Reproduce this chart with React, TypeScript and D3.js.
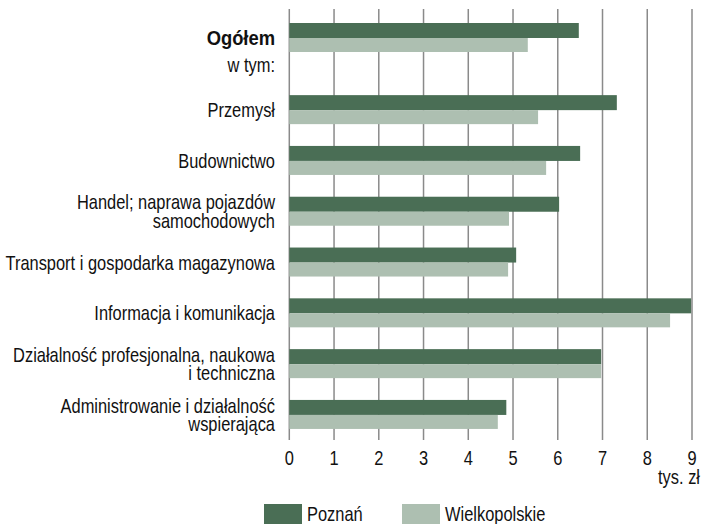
import React from "react";
import * as d3 from "d3";

const categories: string[][] = [
  ["Ogółem"],
  ["Przemysł"],
  ["Budownictwo"],
  ["Handel; naprawa pojazdów", "samochodowych"],
  ["Transport i gospodarka magazynowa"],
  ["Informacja i komunikacja"],
  ["Działalność profesjonalna, naukowa", "i techniczna"],
  ["Administrowanie i działalność", "wspierająca"],
];
const rowSlot = [0, 1.42, 2.42, 3.42, 4.42, 5.42, 6.42, 7.42];
const poznan = [6.47, 7.32, 6.5, 6.03, 5.07, 8.98, 6.97, 4.85];
const wielkopolskie = [5.33, 5.56, 5.74, 4.91, 4.89, 8.51, 6.97, 4.66];
const xTicks = [0, 1, 2, 3, 4, 5, 6, 7, 8, 9];
const seriesNames = ["Poznań", "Wielkopolskie"];
const subLabel = "w tym:";
const unitLabel = "tys. zł";

const DARK = "#4a6e55";
const LIGHT = "#adbfb1";
const GRID = "#8a8a8a";
const FONT = "'Liberation Sans', Arial, sans-serif";
const SX = 0.782;
const SX_BOLD = 0.875;

function NText(props: {
  x: number;
  y: number;
  anchor?: string;
  bold?: boolean;
  size?: number;
  children: React.ReactNode;
}) {
  const { x, y, anchor = "start", bold = false, size = 21, children } = props;
  return (
    <g transform={`translate(${x},${y}) scale(${bold ? SX_BOLD : SX},1)`}>
      <text
        x={0}
        y={0}
        textAnchor={anchor}
        fontSize={size}
        fontWeight={bold ? "bold" : "normal"}
        fill="#111"
      >
        {children}
      </text>
    </g>
  );
}

export default function App() {
  const W = 702;
  const H = 524;
  const x = d3.scaleLinear().domain([0, 9]).range([289.3, 692]);
  const y = d3.scaleLinear().domain([0, 1]).range([23, 73.8]);
  const barH1 = 15;
  const barH2 = 14;
  const gridTop = 9;
  const gridBottom = 440;
  const labelX = 275;
  const baseOff = 7.5;

  return (
    <svg
      width={W}
      height={H}
      style={{ position: "absolute", left: 0, top: 0 }}
      fontFamily={FONT}
    >
      <rect width={W} height={H} fill="#fff" />
      {xTicks.map((t) => (
        <line
          key={"g" + t}
          x1={x(t)}
          x2={x(t)}
          y1={gridTop}
          y2={gridBottom}
          stroke={GRID}
          strokeWidth={1.5}
        />
      ))}
      {categories.map((c, i) => {
        const top = y(rowSlot[i]);
        return (
          <g key={"b" + i}>
            <rect x={x(0)} y={top} width={x(poznan[i]) - x(0)} height={barH1} fill={DARK} />
            <rect
              x={x(0)}
              y={top + barH1}
              width={x(wielkopolskie[i]) - x(0)}
              height={barH2}
              fill={LIGHT}
            />
          </g>
        );
      })}
      {categories.map((c, i) => {
        const center = y(rowSlot[i]) + (barH1 + barH2) / 2;
        const lh = 18.5;
        const start = center - ((c.length - 1) * lh) / 2;
        return (
          <g key={"l" + i}>
            {c.map((line, j) => (
              <NText key={j} x={labelX} y={start + j * lh + baseOff} anchor="end" bold={i === 0}>
                {line}
              </NText>
            ))}
          </g>
        );
      })}
      <NText x={labelX} y={y(0.82) + baseOff} anchor="end">
        {subLabel}
      </NText>
      {xTicks.map((t) => (
        <NText key={"t" + t} x={x(t)} y={465} anchor="middle">
          {String(t)}
        </NText>
      ))}
      <NText x={700} y={484} anchor="end">
        {unitLabel}
      </NText>
      {seriesNames.map((s, i) => {
        const sx = i === 0 ? 264 : 402;
        return (
          <g key={"lg" + i}>
            <rect x={sx} y={504} width={38} height={20} fill={i === 0 ? DARK : LIGHT} />
            <NText x={sx + 43} y={521}>
              {s}
            </NText>
          </g>
        );
      })}
    </svg>
  );
}
